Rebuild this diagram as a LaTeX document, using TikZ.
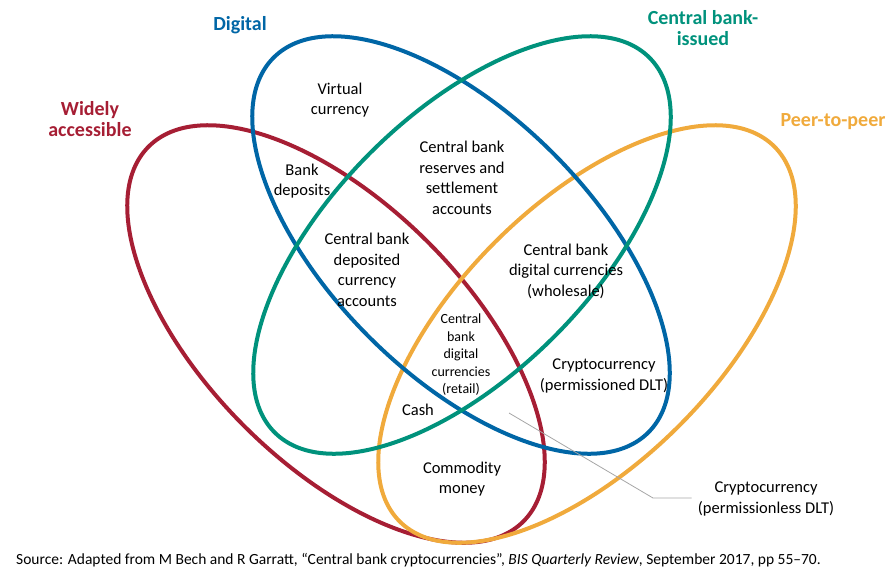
\documentclass[tikz,border=0pt]{standalone}
\usepackage{fontspec}
\setmainfont{Carlito}
\definecolor{cred}{RGB}{166,30,52}
\definecolor{cblue}{RGB}{0,102,166}
\definecolor{cgreen}{RGB}{0,146,124}
\definecolor{corange}{RGB}{240,170,60}
\begin{document}
\begin{tikzpicture}[x=1pt,y=-1pt,
  ring/.style={line width=4pt},
  lbl/.style={align=center,font=\fontsize{16.5}{20.5}\selectfont,inner sep=0pt},
  small/.style={align=center,font=\fontsize{14}{17.5}\selectfont,inner sep=0pt},
  head/.style={align=center,font=\fontsize{20}{21.5}\selectfont\bfseries,inner sep=0pt}]
\useasboundingbox (0,0) rectangle (896,576);
% ellipses (red, orange, blue, green drawing order)
\draw[ring,cred,rotate around={-45:(336,334)}] (336,334) ellipse [x radius=265pt, y radius=130pt];
\draw[ring,corange,rotate around={45:(587,334)}] (587,334) ellipse [x radius=265pt, y radius=130pt];
\draw[ring,cblue,rotate around={-45:(461,245)}] (461,245) ellipse [x radius=265pt, y radius=130pt];
\draw[ring,cgreen,rotate around={45:(462,245)}] (462,245) ellipse [x radius=265pt, y radius=130pt];
% headings
\node[head,text=cblue] (hdig) at (240,25) {Digital};
\node[head,text=cgreen] (hcb) at (703,28) {Central bank-\\issued};
\node[head,text=cred] (hwa) at (90,119) {Widely\\accessible};
\node[head,text=corange] (hp2p) at (833,122) {Peer-to-peer};
% region labels
\node[lbl] (vc) at (340,100) {Virtual\\currency};
\node[lbl] (bd) at (302,181) {Bank\\deposits};
\node[lbl] (cbr) at (462,178) {Central bank\\reserves and\\settlement\\accounts};
\node[lbl] (cbd) at (367,270) {Central bank\\deposited\\currency\\accounts};
\node[lbl] (cbw) at (566,271) {Central bank\\digital currencies\\(wholesale)};
\node[small] (cbrt) at (461,355) {Central\\bank\\digital\\currencies\\(retail)};
\node[lbl] (cpd) at (604,376) {Cryptocurrency\\(permissioned DLT)};
\node[lbl] (cash) at (418,410) {Cash};
\node[lbl] (cm) at (462,479) {Commodity\\money};
\node[lbl] (cpl) at (766,499) {Cryptocurrency\\(permissionless DLT)};
% leader line
\coordinate (lp) at (509,413);
\coordinate (lb) at (653,498);
\draw[gray!70,line width=0.8pt] (lp) -- (lb) -- ([xshift=-6pt]cpl.west|-lb);
% source
\node[anchor=west,inner sep=0pt,font=\fontsize{15.5}{18}\selectfont] (src) at (16,560) {Source: Adapted from M Bech and R Garratt, “Central bank cryptocurrencies”, \textit{BIS Quarterly Review}, September 2017, pp 55–70.};
\end{tikzpicture}
\end{document}
